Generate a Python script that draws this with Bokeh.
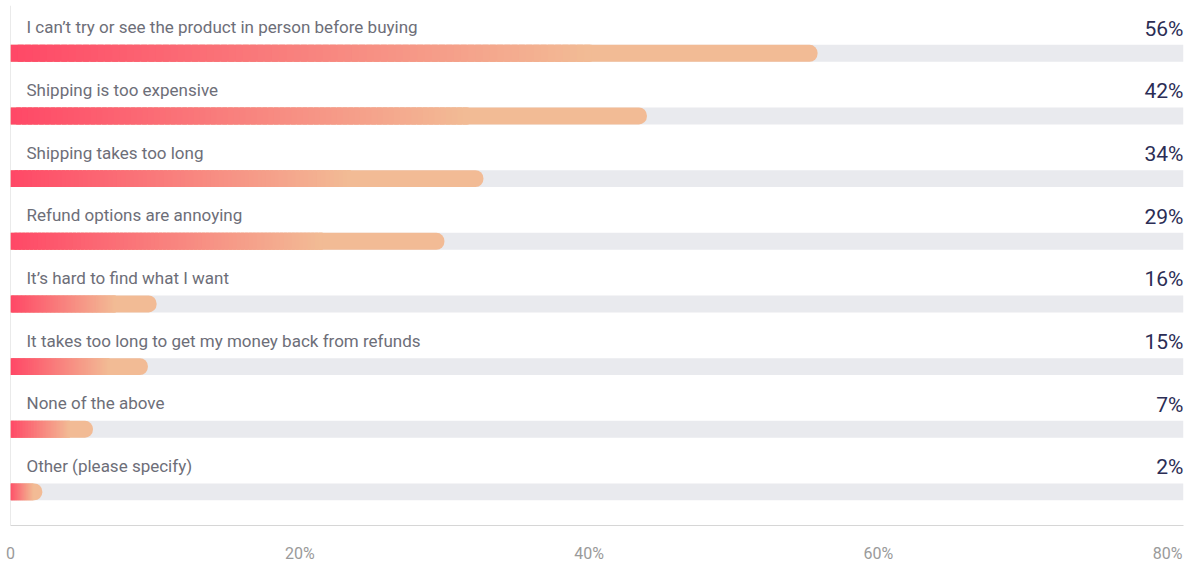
from bokeh.plotting import figure
from bokeh.models import Range1d, Span, FixedTicker, ColumnDataSource
from bokeh.core.properties import value
from bokeh.embed import file_html
from bokeh.resources import INLINE

categories = [
    "I can\u2019t try or see the product in person before buying",
    "Shipping is too expensive",
    "Shipping takes too long",
    "Refund options are annoying",
    "It\u2019s hard to find what I want",
    "It takes too long to get my money back from refunds",
    "None of the above",
    "Other (please specify)",
]
label_pct = [56, 42, 34, 29, 16, 15, 7, 2]
# bar lengths as drawn in the reference (percent of axis)
bar_pct = [55.8, 44.0, 32.7, 30.0, 10.1, 9.5, 5.7, 2.2]
tick_values = [0, 20, 40, 60, 80]
tick_labels = ["0", "20%", "40%", "60%", "80%"]

X_MAX = 81.1
FONT = "Roboto"
START = (255, 71, 102)
END = (242, 187, 149)
GRAD_FRAC = 0.72
BAR_H = 0.27

rows = list(range(len(categories)))

p = figure(width=1189, height=565, x_range=Range1d(0, X_MAX),
           y_range=Range1d(7.536, -0.763), output_backend="svg",
           toolbar_location=None, min_border_left=10, min_border_right=6,
           min_border_top=5, min_border_bottom=38)
p.yaxis.visible = False
p.grid.visible = False
p.outline_line_color = None
p.background_fill_color = "white"
p.border_fill_color = "white"

ax = p.xaxis[0]
ax.ticker = FixedTicker(ticks=tick_values)
ax.major_label_overrides = {v: t for v, t in zip(tick_values, tick_labels)}
ax.major_tick_line_color = None
ax.minor_tick_line_color = None
ax.major_tick_out = 0
ax.major_tick_in = 0
ax.axis_line_color = "#d6d6d6"
ax.major_label_standoff = 18
ax.major_label_text_font = FONT
ax.major_label_text_font_size = "16px"
ax.major_label_text_color = "#9a9a9a"

p.add_layout(Span(location=0, dimension="height", line_color="#d6d6d6",
                  line_width=1, level="underlay"))

# tracks
p.hbar(y=rows, left=0, right=X_MAX, height=BAR_H, fill_color="#e9eaee",
       line_color=None)
# bars (peach base with rounded end)
p.hbar(y=rows, left=0, right=bar_pct, height=BAR_H,
       fill_color="#%02x%02x%02x" % END, line_color=None,
       border_radius=(0, 8, 8, 0))

# gradient slices
N = 80
ys, ls, rs, cs = [], [], [], []
for r, v in zip(rows, bar_pct):
    g = v * GRAD_FRAC
    for k in range(N):
        t = (k + 1) / N
        col = tuple(int(round(a + (b - a) * t)) for a, b in zip(START, END))
        ys.append(r)
        ls.append(g * k / N)
        rs.append(min(g, g * (k + 1.8) / N))
        cs.append("#%02x%02x%02x" % col)
src = ColumnDataSource(dict(y=ys, left=ls, right=rs, color=cs))
p.hbar(y="y", left="left", right="right", height=BAR_H, fill_color="color",
       line_color=None, source=src)

p.text(x=[0] * len(rows), y=rows, text=categories, x_offset=16, y_offset=-26,
       text_baseline="middle", text_align="left", text_font=value(FONT),
       text_font_size="17px", text_color="#6d6e78")
p.text(x=[X_MAX] * len(rows), y=rows, text=[f"{v}%" for v in label_pct],
       x_offset=0, y_offset=-24.5, text_baseline="middle",
       text_align="right", text_font=value(FONT), text_font_size="21px",
       text_color="#2b2d55")

open("out.html", "w").write(file_html(p, INLINE))
